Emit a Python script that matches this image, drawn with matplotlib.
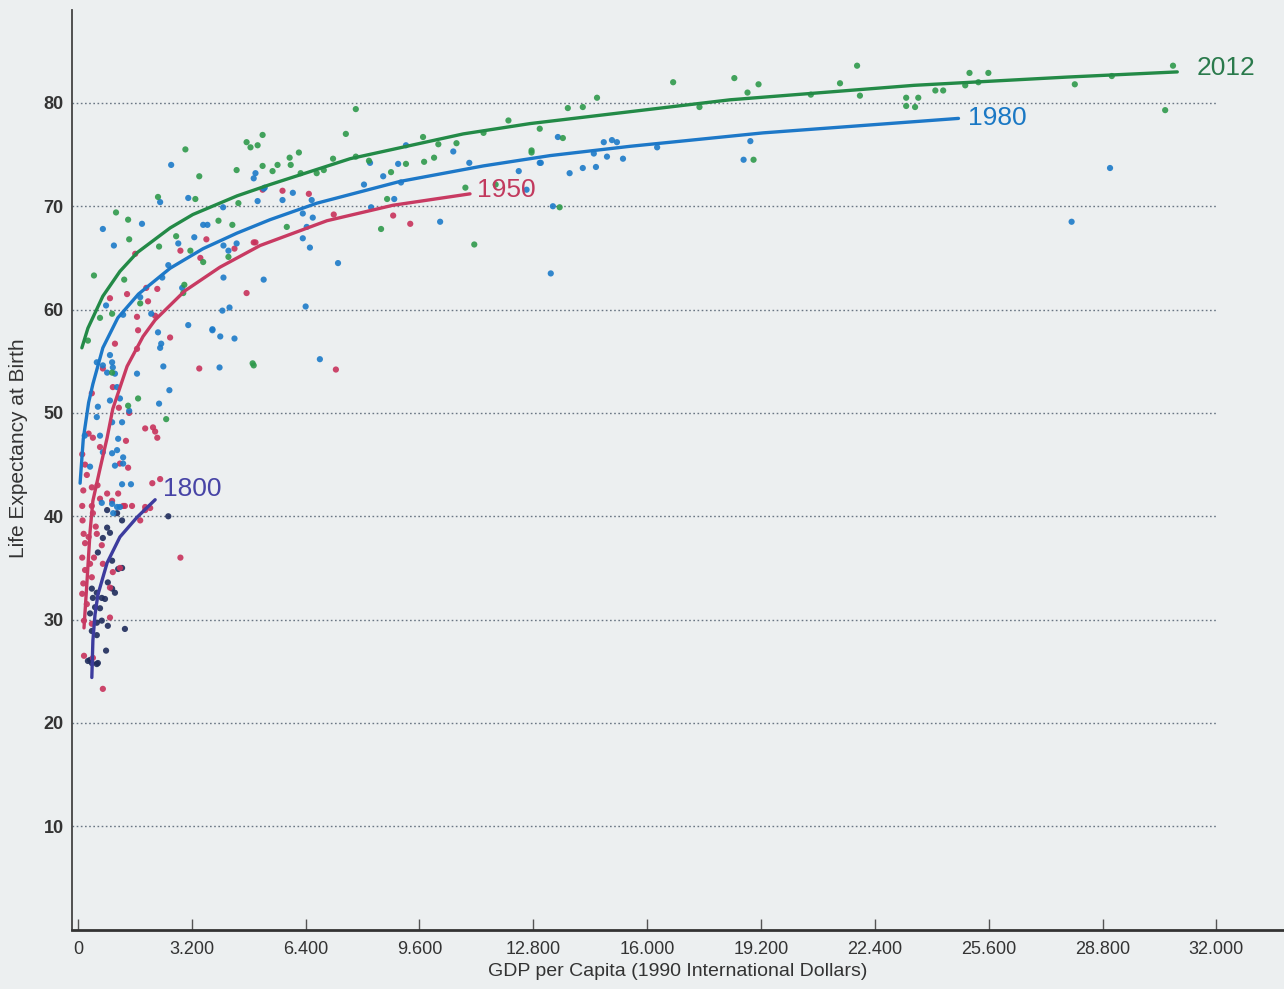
import matplotlib
matplotlib.use("Agg")
import matplotlib.pyplot as plt
from matplotlib.ticker import FixedLocator, FuncFormatter

# GDP per capita (1990 int. $) and life expectancy
gdp_2012 = [30780, 30560, 29060, 28020, 25590, 25060, 24940, 25310, 24320, 24100, 23280, 23620, 23280, 23530,
            21900, 21420, 21980, 20600, 19130, 18450, 18820, 16730, 17470, 14590, 14190, 13770, 12980, 13630,
            18990, 13540, 12750, 7810, 7530, 9700, 10130, 10640, 9730, 10010, 9220, 6210, 5950, 5980, 5610,
            5470, 5190, 5050, 4850, 5190, 4740, 6260, 6710, 6910, 7170, 7810, 8180, 8800, 11400, 12100, 12750,
            10890, 11740, 8690, 8520, 5870, 11140, 4940, 3020, 4460, 3410, 3300, 2250, 1070, 1410, 1440, 2280,
            2760, 3160, 3520, 3950, 4340, 4510, 450, 1300, 2990, 2960, 4230, 960, 620, 1750, 280, 960, 4910,
            1690, 1410, 2480]
le_2012 = [83.6, 79.3, 82.6, 81.8, 82.9, 82.9, 81.7, 82.0, 81.2, 81.2, 80.5, 80.5, 79.7, 79.6,
           83.6, 81.9, 80.7, 80.8, 81.8, 82.4, 81.0, 82.0, 79.6, 80.5, 79.6, 79.5, 77.5, 76.6,
           74.5, 69.9, 75.4, 79.4, 77.0, 76.7, 76.0, 76.1, 74.3, 74.7, 74.1, 75.2, 74.7, 74.0, 74.0,
           73.4, 73.9, 75.9, 75.7, 76.9, 76.2, 73.2, 73.2, 73.5, 74.6, 74.8, 74.4, 73.3, 77.1, 78.3, 75.2,
           71.8, 72.1, 70.7, 67.8, 68.0, 66.3, 54.6, 75.5, 73.5, 72.9, 70.7, 70.9, 69.4, 68.7, 66.8, 66.1,
           67.1, 65.7, 64.6, 68.6, 68.2, 70.3, 63.3, 62.9, 62.4, 61.6, 65.1, 59.6, 59.2, 60.6, 57.0, 53.9, 54.8,
           51.4, 50.7, 49.4]

gdp_1980 = [29010, 27930, 13490, 14780, 15010, 15150, 14500, 14870, 15320, 16280, 14190, 14560, 13820, 13010,
            18900, 18710, 13350, 13290, 8210, 9000, 8580, 10550, 9220, 8040, 9080, 8890, 8240, 11000, 12390,
            12980, 12610, 6040, 5750, 5220, 5050, 6570, 6320, 6600, 6430, 6320, 6520, 10180, 7310, 5220, 6400,
            6800, 4990, 4940, 2620, 700, 1010, 1800, 2310, 3100, 5250, 4080, 3520, 3640, 3270, 2820, 4090,
            4460, 4230, 2540, 2930, 4090, 2370, 1750, 790, 1270, 2060, 4060, 4260, 3100, 3780, 3780, 4000,
            4400, 2250, 2340, 2310, 2400, 3980, 2570, 2280, 1660, 530, 700, 900, 980, 1040, 820, 960, 1100,
            900, 1180, 560, 530, 960, 1240, 620, 1130, 190, 700, 960, 1100, 1270, 1040, 1270, 340, 1240,
            1490, 670, 960, 1180, 990, 1440, 1100]
le_1980 = [73.7, 68.5, 76.7, 76.2, 76.4, 76.2, 75.1, 74.8, 74.6, 75.7, 73.7, 73.8, 73.2, 74.2,
           76.3, 74.5, 70.0, 63.5, 74.2, 74.1, 72.9, 75.3, 75.9, 72.1, 72.3, 70.7, 69.9, 74.2, 73.4,
           74.2, 71.6, 71.3, 70.6, 71.7, 70.5, 70.6, 69.3, 68.9, 68.0, 66.9, 66.0, 68.5, 64.5, 62.9, 60.3,
           55.2, 73.2, 72.7, 74.0, 67.8, 66.2, 68.3, 70.4, 70.8, 71.8, 69.9, 68.2, 68.2, 67.0, 66.4, 66.2,
           66.4, 65.7, 64.3, 62.1, 63.1, 63.1, 61.2, 60.4, 59.5, 59.6, 59.9, 60.2, 58.5, 58.1, 58.0, 57.4,
           57.2, 57.8, 56.7, 56.3, 54.5, 54.4, 52.2, 50.9, 53.8, 54.9, 54.6, 55.6, 54.4, 53.8, 53.9, 54.9, 52.5,
           51.2, 51.4, 50.6, 49.6, 49.1, 49.1, 47.8, 47.5, 47.8, 46.2, 46.1, 46.4, 45.7, 44.9, 45.1, 44.8, 43.1,
           43.1, 41.3, 41.2, 40.9, 40.3, 50.2, 40.9]

gdp_1950 = [5750, 6490, 5190, 7190, 8860, 9340, 4990, 7250, 3610, 2880, 3440, 4400, 4940, 1610, 1380, 900,
            1920, 2230, 4740, 1970, 1660, 2170, 2590, 3410, 2170, 1890, 2110, 2230, 2310, 2090, 1440, 1350,
            1150, 980, 1040, 1660, 1690, 700, 420, 120, 390, 620, 1180, 1410, 390, 150, 620, 820, 960, 1130,
            1270, 1520, 1890, 2030, 120, 390, 130, 420, 160, 530, 200, 670, 120, 340, 700, 200, 390, 120,
            980, 1180, 900, 900, 170, 390, 170, 420, 700, 2880, 1320, 1890, 1750, 250, 300, 150, 250, 450,
            550, 300, 200, 500]
le_1950 = [71.5, 71.2, 71.6, 69.2, 69.1, 68.3, 66.5, 54.2, 66.8, 65.7, 65.0, 65.9, 66.5, 65.4, 61.5, 61.1,
           62.1, 62.0, 61.6, 60.8, 59.3, 59.4, 57.3, 54.3, 48.2, 48.5, 48.6, 47.6, 43.6, 43.2, 50.0, 47.3,
           50.5, 52.5, 56.7, 56.2, 58.0, 54.3, 47.6, 46.0, 51.9, 46.7, 45.1, 44.7, 42.8, 42.5, 41.7, 42.2, 41.5, 42.2,
           41.0, 41.0, 40.9, 40.8, 41.0, 41.0, 39.6, 40.3, 38.3, 38.3, 37.4, 37.2, 36.0, 35.4, 35.4, 34.8, 34.1, 32.5,
           34.6, 35.0, 33.1, 30.2, 29.9, 29.6, 26.5, 26.3, 23.3, 36.0, 41.0, 40.6, 39.6, 44.0, 38.0, 33.5, 31.5, 36.0,
           43.0, 48.0, 45.0, 39.0]

gdp_1800 = [2540, 820, 900, 700, 560, 960, 1130, 1240, 840, 960, 1040, 390, 530, 420, 670, 760, 480, 620,
            340, 530, 670, 840, 1320, 390, 530, 790, 280, 530, 390, 1100, 1240, 820, 340, 560]
le_1800 = [40.0, 38.9, 38.4, 37.9, 36.5, 35.7, 34.9, 35.0, 33.6, 33.0, 32.6, 33.0, 32.6, 32.1, 32.1, 32.0, 31.2, 31.1,
           30.6, 29.7, 29.9, 29.4, 29.1, 28.9, 28.5, 27.0, 26.0, 25.7, 25.8, 40.3, 39.6, 40.6, 26.1, 25.8]

# trend lines
trend_gdp_2012 = [110, 280, 700, 1180, 1660, 2590, 3230, 4470, 5400, 7650, 10830, 12710, 18330, 23500, 27810, 30900]
trend_le_2012 = [56.3, 58.2, 61.3, 63.7, 65.5, 67.9, 69.2, 71.0, 72.1, 74.6, 77.0, 78.0, 80.3, 81.7, 82.5, 83.0]
trend_gdp_1980 = [60, 150, 300, 420, 700, 1120, 1700, 2590, 3520, 4470, 5400, 6720, 9050, 11390, 13270, 15520,
                  19260, 24750]
trend_le_1980 = [43.2, 47.5, 51.0, 52.8, 56.3, 59.2, 61.5, 64.0, 65.9, 67.4, 68.7, 70.3, 72.4, 73.9, 74.9, 75.8,
                 77.1, 78.5]
trend_gdp_1950 = [170, 260, 340, 420, 620, 820, 980, 1380, 1830, 2170, 3000, 3990, 5120, 7000, 8860, 11020]
trend_le_1950 = [29.2, 34.0, 38.5, 41.5, 44.6, 47.6, 50.4, 54.5, 57.4, 59.0, 61.8, 64.1, 66.2, 68.6, 70.1, 71.2]
trend_gdp_1800 = [390, 420, 480, 560, 820, 1180, 1660, 2170]
trend_le_1800 = [24.4, 28.0, 30.5, 32.4, 35.5, 38.0, 39.9, 41.6]

x_ticks = [0, 3200, 6400, 9600, 12800, 16000, 19200, 22400, 25600, 28800, 32000]
y_ticks = [10, 20, 30, 40, 50, 60, 70, 80]

series = [
    ("1800", gdp_1800, le_1800, trend_gdp_1800, trend_le_1800, "#1f2c5c", "#3d3c9e", "#4744a6", (6, 8)),
    ("1950", gdp_1950, le_1950, trend_gdp_1950, trend_le_1950, "#c8325c", "#c83a62", "#c23a5e", (5, 3)),
    ("1980", gdp_1980, le_1980, trend_gdp_1980, trend_le_1980, "#1d7bc9", "#1d78c8", "#1a78c4", (7, 0)),
    ("2012", gdp_2012, le_2012, trend_gdp_2012, trend_le_2012, "#2f9a4c", "#238a47", "#2a7a4c", (14, 3)),
]

bg = "#eceff0"
fig = plt.figure(figsize=(12.84, 9.89), dpi=100, facecolor=bg)
ax = fig.add_axes([0.056, 0.06, 0.944, 0.93])
ax.set_facecolor(bg)

ax.set_xlim(-170, 33900)
ax.set_ylim(0, 89)

for yv in y_ticks:
    ax.hlines(yv, -170, 32000, colors="#6a7684", linestyles=(0, (1.2, 1.8)), linewidth=1.0, zorder=1)

for name, gx, ly, tx, ty, pcol, lcol, tcol, off in series:
    ax.scatter(gx, ly, s=20, color=pcol, edgecolors="none", alpha=0.9, zorder=3)
    ax.plot(tx, ty, color=lcol, linewidth=2.4, solid_joinstyle="round", solid_capstyle="round", zorder=4)
    ax.annotate(name, (tx[-1], ty[-1]), xytext=off, textcoords="offset points",
                ha="left", va="center", fontsize=19, color=tcol, family=["Liberation Sans", "DejaVu Sans"],
                zorder=5)

ax.xaxis.set_major_locator(FixedLocator(x_ticks))
ax.xaxis.set_major_formatter(FuncFormatter(lambda v, p: f"{int(v):,}".replace(",", ".")))
ax.yaxis.set_major_locator(FixedLocator(y_ticks))

ax.tick_params(axis="x", direction="in", length=8, width=1, color="#555", pad=8, labelsize=13,
               labelcolor="#333")
ax.tick_params(axis="y", length=0, pad=6, labelsize=13, labelcolor="#333")
for lab in ax.get_xticklabels():
    lab.set_family(["Liberation Sans", "DejaVu Sans"])
for lab in ax.get_yticklabels():
    lab.set_family(["Liberation Sans", "DejaVu Sans"])
    lab.set_fontweight("bold")

ax.spines["top"].set_visible(False)
ax.spines["right"].set_visible(False)
ax.spines["left"].set_color("#444")
ax.spines["bottom"].set_color("#333")
ax.spines["bottom"].set_linewidth(2)
ax.spines["left"].set_linewidth(1.3)

ax.set_xlabel("GDP per Capita (1990 International Dollars)", fontsize=14, color="#333",
              family=["Liberation Sans", "DejaVu Sans"], labelpad=4)
ax.set_ylabel("Life Expectancy at Birth", fontsize=15, color="#333",
              family=["Liberation Sans", "DejaVu Sans"])
ax.yaxis.set_label_coords(-0.036, 0.524)

fig.savefig("out.png", dpi=100, facecolor=bg)
